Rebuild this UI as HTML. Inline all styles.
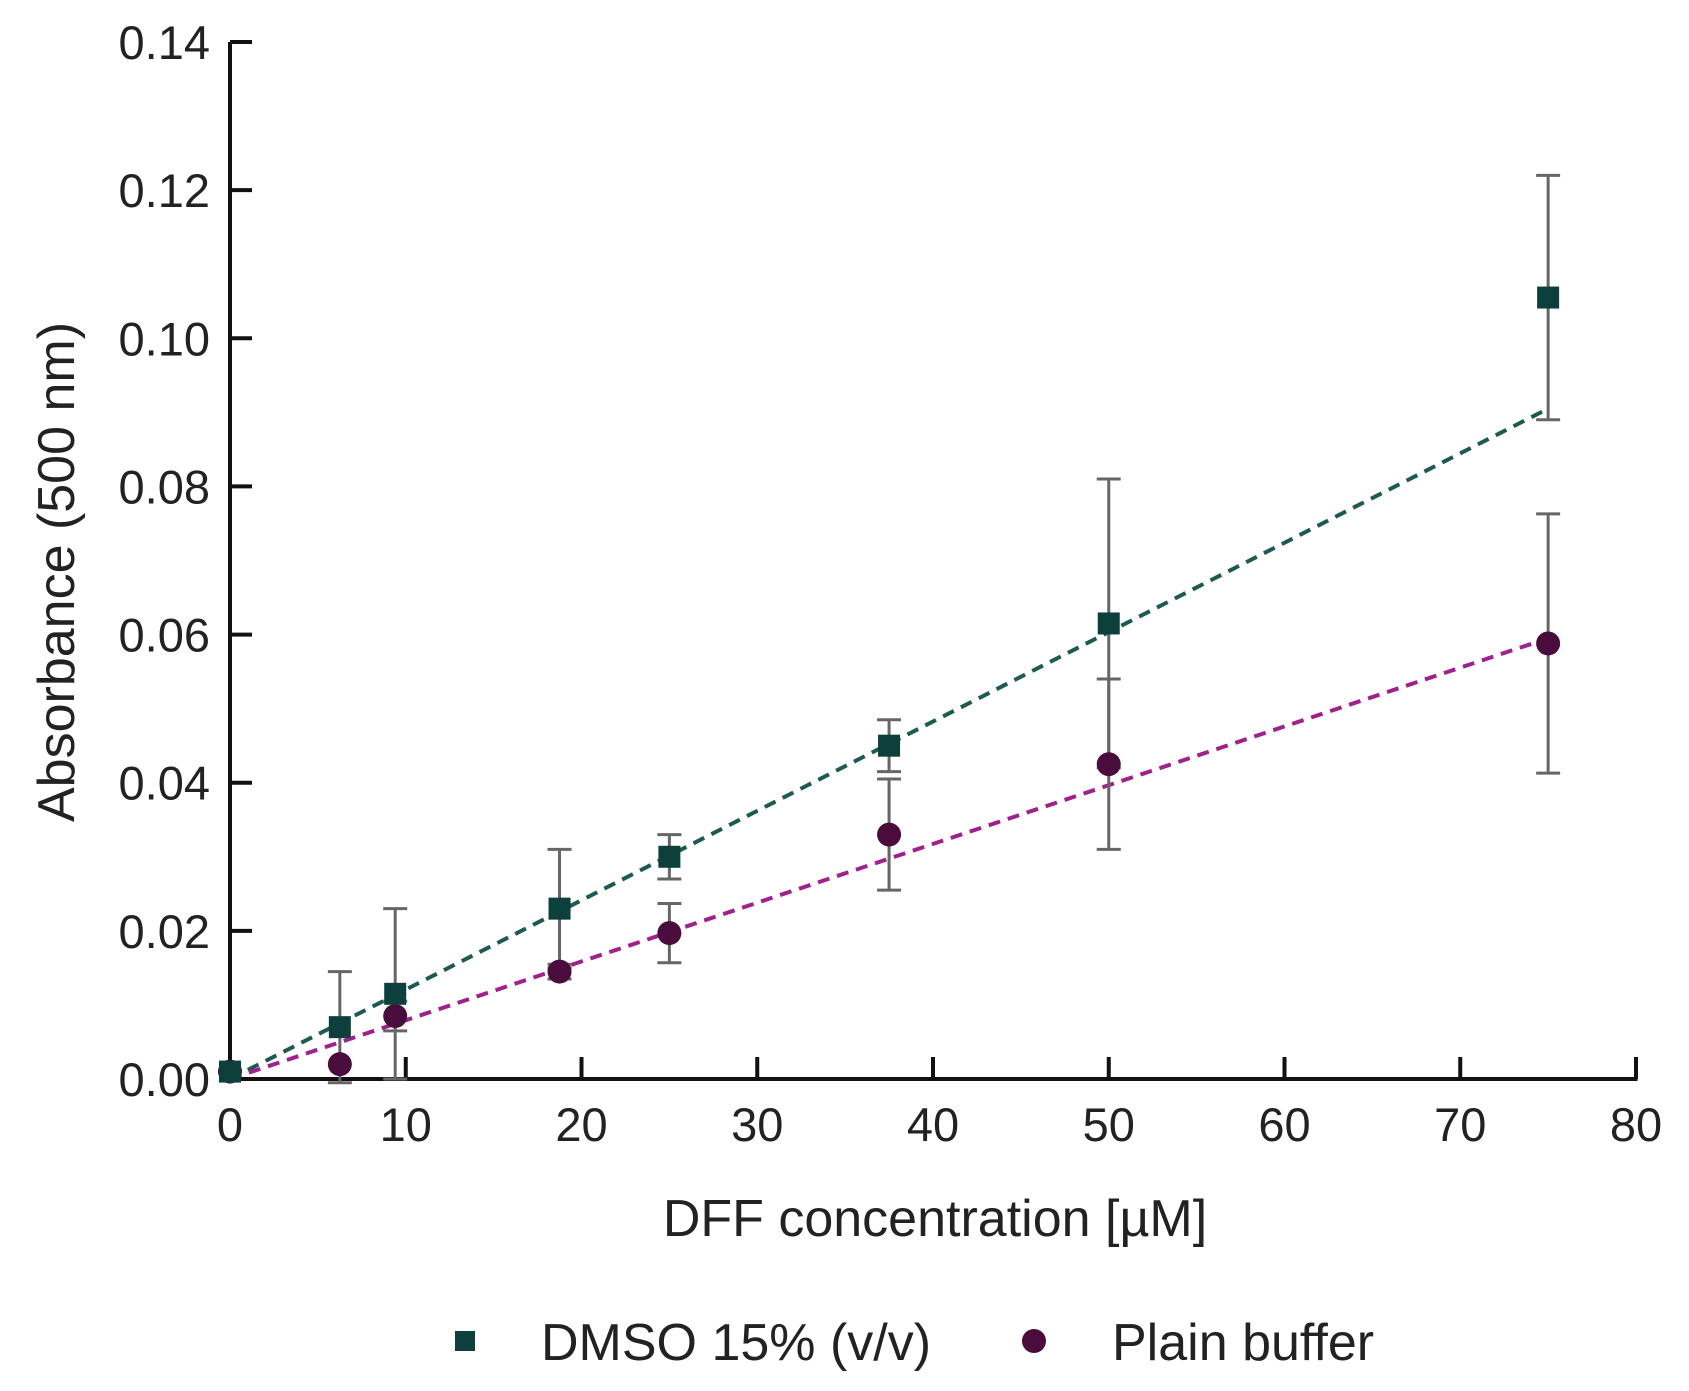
<!DOCTYPE html>
<html><head><meta charset="utf-8"><style>
html,body{margin:0;padding:0;background:#fff;}
svg{display:block;font-family:"Liberation Sans",Arial,sans-serif;}
</style></head><body>
<svg id="chart" width="1689" height="1391" viewBox="0 0 1689 1391" xmlns="http://www.w3.org/2000/svg">
<g id="axes"></g>
<g id="fits"></g>
<g id="errs"></g>
<g id="marks"></g>
<text x="935" y="1236" font-size="52" text-anchor="middle" fill="#222">DFF concentration [µM]</text>
<text transform="translate(74,572) rotate(-90)" font-size="52" text-anchor="middle" fill="#222">Absorbance (500 nm)</text>
<g>
  <rect x="455" y="1331" width="20" height="20" fill="#0d3f3c"/>
  <text x="541" y="1360" font-size="52" fill="#222">DMSO 15% (v/v)</text>
  <circle cx="1034" cy="1341" r="12" fill="#4a0c3c"/>
  <text x="1112" y="1360" font-size="52" fill="#222">Plain buffer</text>
</g>
</svg>
<script>
const xVals = [0, 6.25, 9.4, 18.75, 25, 37.5, 50, 75];
const dmsoVals = [0.001, 0.007, 0.0115, 0.023, 0.030, 0.045, 0.0615, 0.1055];
const dmsoErr = [0, 0.0075, 0.0115, 0.008, 0.003, 0.0035, 0.0195, 0.0165];
const plainVals = [0.001, 0.002, 0.0085, 0.0145, 0.0197, 0.033, 0.0425, 0.0588];
const plainErr = [0, 0, 0.002, 0.001, 0.004, 0.0075, 0.0115, 0.0175];
const dmsoFit = [0, 0.0905];
const plainFit = [0, 0.0595];
const fitX = [0, 75];
const xTicks = [0, 10, 20, 30, 40, 50, 60, 70, 80];
const yTicks = [0, 0.02, 0.04, 0.06, 0.08, 0.10, 0.12, 0.14];

const NS = "http://www.w3.org/2000/svg";
const X0 = 230, X1 = 1636, Y0 = 1079, Y1 = 42;
const xs = v => X0 + v / 80 * (X1 - X0);
const ys = v => Y0 - v / 0.14 * (Y0 - Y1);
function mk(tag, attrs, parent) {
  const e = document.createElementNS(NS, tag);
  for (const k in attrs) e.setAttribute(k, attrs[k]);
  parent.appendChild(e);
  return e;
}
const axes = document.getElementById('axes');
let e = mk('line', {x1: X0, y1: Y0, x2: X1 + 1.5, y2: Y0, stroke: '#111', 'stroke-width': 4}, axes);


e = mk('line', {x1: X0, y1: Y0 + 1.5, x2: X0, y2: Y1, stroke: '#111', 'stroke-width': 4}, axes);


xTicks.forEach(t => {
  const x = xs(t);
  const l = mk('line', {x1: x, y1: Y0, x2: x, y2: Y0 - 22, stroke: '#111', 'stroke-width': 4}, axes);
  
  
  const tx = mk('text', {x: x, y: 1141, 'font-size': 47, 'text-anchor': 'middle', fill: '#222'}, axes);
  tx.textContent = String(t);
  
  
});
yTicks.forEach(t => {
  const y = ys(t);
  const l = mk('line', {x1: X0, y1: y, x2: X0 + 22, y2: y, stroke: '#111', 'stroke-width': 4}, axes);
  
  
  const tx = mk('text', {x: 210, y: y + 17, 'font-size': 47, 'text-anchor': 'end', fill: '#222'}, axes);
  tx.textContent = t.toFixed(2);
  
  
});
const fits = document.getElementById('fits');
e = mk('line', {x1: xs(fitX[0]), y1: ys(dmsoFit[0]), x2: xs(fitX[1]), y2: ys(dmsoFit[1]), stroke: '#1d5a52', 'stroke-width': 4, 'stroke-dasharray': '12 8'}, fits);


e = mk('line', {x1: xs(fitX[0]), y1: ys(plainFit[0]), x2: xs(fitX[1]), y2: ys(plainFit[1]), stroke: '#a0208c', 'stroke-width': 4, 'stroke-dasharray': '12 8'}, fits);


const errs = document.getElementById('errs');
function drawErr(vals, errsArr, name) {
  vals.forEach((v, i) => {
    if (!errsArr[i]) return;
    const x = xs(xVals[i]), yt = ys(v + errsArr[i]), yb = ys(v - errsArr[i]);
    const g = mk('g', {stroke: '#666', 'stroke-width': 3}, errs);
    
    
    mk('line', {x1: x, y1: yt, x2: x, y2: yb}, g);
    mk('line', {x1: x - 12, y1: yt, x2: x + 12, y2: yt}, g);
    mk('line', {x1: x - 12, y1: yb, x2: x + 12, y2: yb}, g);
  });
}
drawErr(dmsoVals, dmsoErr, 'dmso-error-bar');
drawErr(plainVals, plainErr, 'plain-error-bar');
const marks = document.getElementById('marks');
plainVals.forEach((v, i) => {
  const c = mk('circle', {cx: xs(xVals[i]), cy: ys(v), r: 12, fill: '#4a0c3c'}, marks);
  
  
});
dmsoVals.forEach((v, i) => {
  const r = mk('rect', {x: xs(xVals[i]) - 11, y: ys(v) - 11, width: 22, height: 22, fill: '#0d3f3c'}, marks);
  
  
});
</script>
</body></html>
